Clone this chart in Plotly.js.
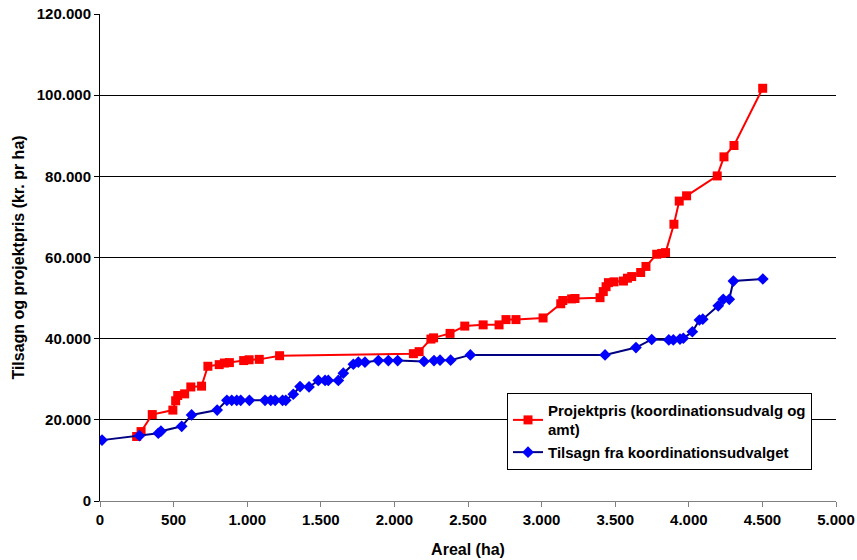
<!DOCTYPE html>
<html>
<head>
<meta charset="utf-8">
<script src="https://cdn.plot.ly/plotly-3.0.1.min.js"></script>
<style>html,body{margin:0;padding:0;background:#fff;}#chart{width:857px;height:560px;}</style>
</head>
<body>
<div id="chart"></div>
<script>
var projektprisX = [249, 279, 355, 495, 514, 528, 575, 617, 690, 733, 810, 845, 879, 976, 1013, 1082, 1220, 2129, 2168, 2248, 2266, 2378, 2478, 2603, 2711, 2758, 2826, 3010, 3130, 3144, 3204, 3227, 3397, 3419, 3438, 3454, 3492, 3556, 3583, 3612, 3673, 3709, 3782, 3816, 3842, 3899, 3935, 3985, 4193, 4239, 4307, 4502];
var projektprisY = [15900, 17100, 21300, 22400, 24700, 26000, 26400, 28100, 28300, 33200, 33600, 34000, 34100, 34600, 34800, 34900, 35800, 36300, 36800, 39900, 40200, 41300, 43100, 43400, 43400, 44700, 44700, 45100, 48600, 49400, 49800, 49900, 50100, 51600, 52800, 53800, 54000, 54200, 54900, 55300, 56300, 57800, 60800, 61000, 61200, 68200, 73900, 75200, 80100, 84800, 87600, 101700];

var tilsagnX = [14, 268, 396, 414, 555, 622, 796, 862, 895, 929, 956, 1015, 1121, 1160, 1190, 1240, 1262, 1313, 1359, 1420, 1483, 1529, 1551, 1619, 1653, 1721, 1755, 1800, 1891, 1959, 2022, 2201, 2269, 2310, 2382, 2516, 3431, 3641, 3748, 3864, 3895, 3940, 3963, 4024, 4072, 4095, 4200, 4234, 4275, 4303, 4503];
var tilsagnY = [15000, 16100, 16700, 17200, 18400, 21200, 22400, 24800, 24800, 24800, 24800, 24800, 24800, 24800, 24800, 24800, 24800, 26300, 28200, 28100, 29700, 29700, 29700, 29700, 31500, 33700, 34200, 34200, 34600, 34600, 34600, 34400, 34600, 34700, 34700, 36000, 36000, 37800, 39800, 39700, 39700, 39900, 40100, 41700, 44600, 44800, 48100, 49700, 49700, 54200, 54700];

var seriesNames = ["Projektpris (koordinationsudvalg og<br>amt)", "Tilsagn fra koordinationsudvalget"];
var xTickVals = [0, 500, 1000, 1500, 2000, 2500, 3000, 3500, 4000, 4500, 5000];
var yTickVals = [0, 20000, 40000, 60000, 80000, 100000, 120000];

var FONT = "Liberation Sans, Arial, sans-serif";
function f(sz) { return {family: FONT, size: sz, color: "#000", weight: 700}; }

var traces = [
  {
    x: projektprisX, y: projektprisY, name: seriesNames[0],
    type: "scatter", mode: "lines+markers",
    line: {color: "#FF0000", width: 2},
    marker: {symbol: "square", size: 9, color: "#FF0000"}
  },
  {
    x: tilsagnX, y: tilsagnY, name: seriesNames[1],
    type: "scatter", mode: "lines+markers",
    line: {color: "#000080", width: 2},
    marker: {symbol: "diamond", size: 9, color: "#0000FF"}
  }
];

var layout = {
  width: 857, height: 560,
  margin: {l: 100, r: 21, t: 14, b: 59},
  paper_bgcolor: "#fff", plot_bgcolor: "#fff",
  separators: ",.",
  font: f(15),
  showlegend: true,
  legend: {
    x: 0.553, y: 0.222, xanchor: "left", yanchor: "top",
    bordercolor: "#000", borderwidth: 1, bgcolor: "#fff",
    font: f(15),
    itemwidth: 30,
    tracegroupgap: 3
  },
  xaxis: {
    range: [0, 5000], tickvals: xTickVals, tickformat: ",d",
    showgrid: false, zeroline: false,
    showline: true, linecolor: "#808080", linewidth: 1,
    ticks: "outside", ticklen: 5, tickcolor: "#808080",
    tickfont: f(15),
    title: {text: "Areal (ha)", font: f(16), standoff: 16}
  },
  yaxis: {
    range: [0, 120000], tickvals: yTickVals, tickformat: ",d",
    showgrid: true, gridcolor: "#000", gridwidth: 1, zeroline: false,
    showline: true, linecolor: "#000", linewidth: 1,
    ticks: "outside", ticklen: 5, tickcolor: "#000",
    tickfont: f(15),
    title: {text: "Tilsagn og projektpris (kr. pr ha)", font: f(16), standoff: 8}
  }
};

Plotly.newPlot("chart", traces, layout, {displayModeBar: false, staticPlot: true});
</script>
</body>
</html>
